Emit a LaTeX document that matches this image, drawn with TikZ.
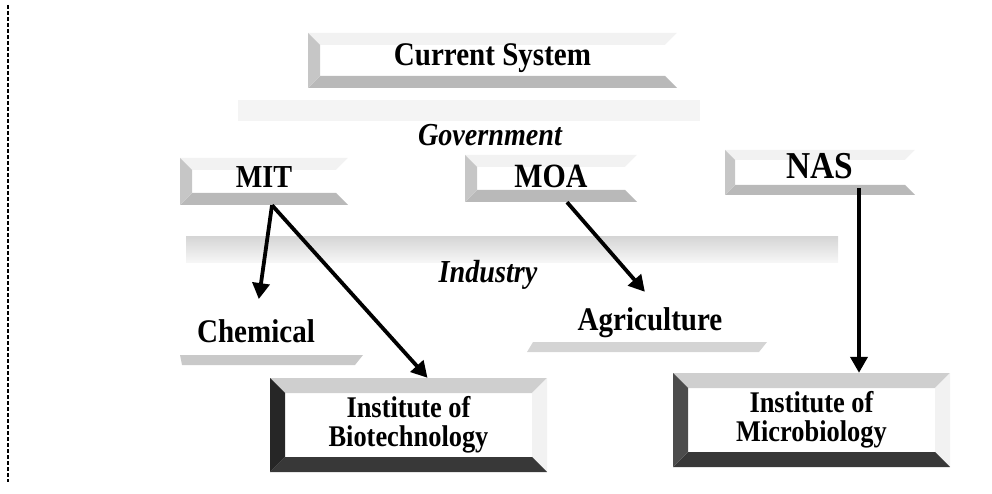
\documentclass[tikz,border=0pt]{standalone}
\usepackage{fontspec}
\setmainfont{Liberation Serif}[FakeStretch=0.88]
\usetikzlibrary{arrows.meta}
\begin{document}
\begin{tikzpicture}[x=1pt,y=-1pt,
  bevel w/.store in=\bevw, bevel w=12pt,
  bevel top/.store in=\bevT, bevel top=gray!10,
  bevel left/.store in=\bevL, bevel left=gray!45,
  bevel bottom/.store in=\bevB, bevel bottom=gray!55,
  bevel right/.store in=\bevR, bevel right=white,
  bevelbox/.style={rectangle, inner sep=0pt, align=center, font=\bfseries,
    path picture={
      \fill[fill=\bevT] (path picture bounding box.north west) -- (path picture bounding box.north east)
        -- ([xshift=-\bevw,yshift=-\bevw]path picture bounding box.north east)
        -- ([xshift=\bevw,yshift=-\bevw]path picture bounding box.north west) -- cycle;
      \fill[fill=\bevR] (path picture bounding box.north east) -- (path picture bounding box.south east)
        -- ([xshift=-\bevw,yshift=\bevw]path picture bounding box.south east)
        -- ([xshift=-\bevw,yshift=-\bevw]path picture bounding box.north east) -- cycle;
      \fill[fill=\bevB] (path picture bounding box.south west) -- (path picture bounding box.south east)
        -- ([xshift=-\bevw,yshift=\bevw]path picture bounding box.south east)
        -- ([xshift=\bevw,yshift=\bevw]path picture bounding box.south west) -- cycle;
      \fill[fill=\bevL] (path picture bounding box.north west) -- (path picture bounding box.south west)
        -- ([xshift=\bevw,yshift=\bevw]path picture bounding box.south west)
        -- ([xshift=\bevw,yshift=-\bevw]path picture bounding box.north west) -- cycle;
    }},
  darkbevel/.style={bevelbox, bevel w=15pt, bevel top=gray!38, bevel left=black!85,
    bevel bottom=black!78, bevel right=gray!10},
  tier/.style={font=\bfseries\itshape\fontsize{32}{32}\selectfont, inner sep=0pt, anchor=base},
  sector/.style={font=\bfseries\fontsize{33}{33}\selectfont, inner sep=0pt, anchor=base},
  band/.style={fill=gray!9},
  strip/.style={fill=gray!42},
  conn/.style={line width=3.8pt, -{Triangle[width=17pt,length=16pt]}}
]
\useasboundingbox (0,0) rectangle (992,494);

% dashed rule on the left margin
\draw[line width=1.3pt, dash pattern=on 4pt off 2pt] (8,5) -- (8,482);

% faint bands behind the tier labels
\fill[band] (238,100) rectangle (700,121);
\shade[top color=gray!32, bottom color=gray!7] (186,237) rectangle (838,262);

% title box
\node[bevelbox, minimum width=369pt, minimum height=55pt, text depth=12pt,
      font=\bfseries\fontsize{33}{33}\selectfont] (cur) at (492.5,60.5) {Current System};

\node[tier] (gov) at (490,146) {Government};

% government bodies
\node[bevelbox, minimum width=168pt, minimum height=47pt, text depth=8pt,
      font=\bfseries\fontsize{32}{32}\selectfont] (mit) at (264,181.5) {MIT};
\node[bevelbox, minimum width=172pt, minimum height=47pt, text depth=4pt,
      font=\bfseries\fontsize{34}{34}\selectfont] (moa) at (551,178.5) {MOA};
\node[bevelbox, minimum width=190pt, minimum height=45pt, text depth=12.5pt,
      bevel w=10pt, font=\bfseries\fontsize{38}{38}\selectfont] (nas) at (820,172.5) {NAS};

\node[tier] (ind) at (488,282) {Industry};

% industry sectors with their shaded strips
\node[sector] (chem) at (256,342) {Chemical};
\fill[strip] (180,355) -- (363,355) -- (355,365) -- (182,365) -- cycle;
\node[sector] (agri) at (650,330) {Agriculture};
\fill[strip, fill=gray!34] (533,342) -- (767,342) -- (759,352) -- (527,352) -- cycle;

% institutes
\node[darkbevel, minimum width=277pt, minimum height=94pt,
      font=\bfseries\fontsize{30}{29}\selectfont] (bio) at (408.5,425)
      {Institute of\\Biotechnology};
\node[darkbevel, minimum width=277pt, minimum height=94pt, bevel left=black!70,
      font=\bfseries\fontsize{30}{29}\selectfont] (mic) at (811.5,420)
      {Institute of\\Microbiology};

% links
\draw[conn, shorten >=20pt] ([xshift=8pt]mit.south) -- (chem.north);
\draw[conn] ([xshift=8pt]mit.south) -- ([xshift=19pt]bio.north);
\draw[conn, shorten >=20pt] ([xshift=16pt]moa.south) -- ([xshift=8pt]agri.north);
\draw[conn] ([xshift=39pt,yshift=7pt]nas.south) -- ([xshift=39pt]nas.south |- mic.north);
\end{tikzpicture}
\end{document}
